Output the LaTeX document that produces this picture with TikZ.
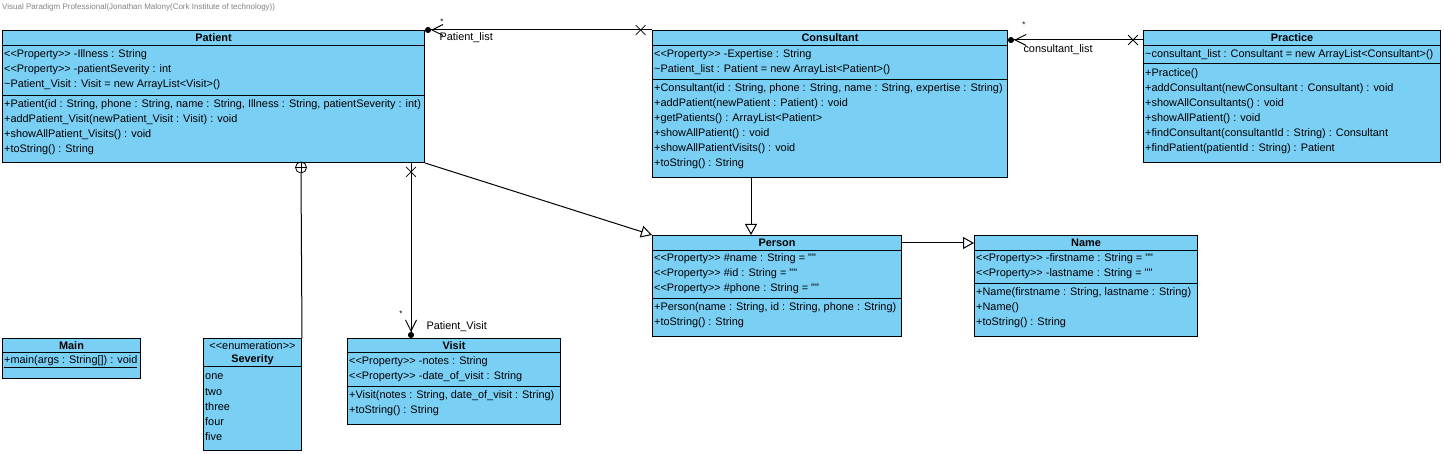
\documentclass[tikz,border=0pt]{standalone}
\usepackage{fontspec}
\setmainfont{Liberation Sans}[Ligatures=TeXOff]
\usetikzlibrary{arrows.meta,shapes.misc,positioning}
\definecolor{vpblue}{RGB}{122,207,245}
\definecolor{vpgray}{RGB}{130,130,130}

% one text line per row, 15pt apart, below the top of a class box
\newcommand\classrows[3]{%
	\foreach \t [count=\i from 0] in {#3}
		\node[member] at ([xshift=2pt,yshift={-(#2+15*\i)*1pt}]#1.north west) {\t};}
% compartment line at a given depth in a class box
\newcommand\sepline[2]{\draw[line width=1pt] ([yshift=-#2pt]#1.north west) -- ([yshift=-#2pt]#1.north east);}

\begin{document}
\begin{tikzpicture}[x=1pt,y=-1pt,
		every node/.style={font=\fontsize{10.9}{12}\selectfont},
		classbox/.style={draw, line width=1pt, fill=vpblue, anchor=north west, inner sep=0pt},
		classname/.style={font=\fontsize{10.9}{12}\selectfont\bfseries, inner sep=0pt},
		member/.style={anchor=west, inner sep=0pt},
		rolelabel/.style={anchor=west, inner sep=0pt},
		mult/.style={font=\fontsize{8}{9}\selectfont, inner sep=0pt},
		xmark/.style={cross out, draw, minimum size=9pt, inner sep=0pt, line width=0.8pt},
		assoc/.style={line width=1pt, -{Straight Barb[length=11pt,width=11pt] Circle[length=6pt]}},
		gen/.style={line width=1pt, -{Triangle[open,length=11pt,width=12pt]}}]
	\useasboundingbox (0,0) rectangle (1444,454);
	\node[font=\fontsize{8}{9}\selectfont, text=vpgray, anchor=west, inner sep=0pt] (header) at (2,7) {Visual Paradigm Professional(Jonathan Malony(Cork Institute of technology))};

	% Patient
	\node[classbox, minimum width=422pt, minimum height=132pt] (patient) at (2,30) {};
	\node[classname] at ([yshift=-8pt]patient.north) {Patient};
	\sepline{patient}{16}
	\sepline{patient}{66}
	\classrows{patient}{24.5}{{<<Property>> -Illness : String},{<<Property>> -patientSeverity : int},{\textasciitilde Patient\_Visit : Visit = new ArrayList<Visit>()}}
	\classrows{patient}{74.5}{{+Patient(id : String, phone : String, name : String, Illness : String, patientSeverity : int)},{+addPatient\_Visit(newPatient\_Visit : Visit) : void},{+showAllPatient\_Visits() : void},{+toString() : String}}

	% Consultant
	\node[classbox, minimum width=355pt, minimum height=147pt] (consultant) at (652,30) {};
	\node[classname] at ([yshift=-8pt]consultant.north) {Consultant};
	\sepline{consultant}{16}
	\sepline{consultant}{50}
	\classrows{consultant}{24.5}{{<<Property>> -Expertise : String},{\textasciitilde Patient\_list : Patient = new ArrayList<Patient>()}}
	\classrows{consultant}{59}{{+Consultant(id : String, phone : String, name : String, expertise : String)},{+addPatient(newPatient : Patient) : void},{+getPatients() : ArrayList<Patient>},{+showAllPatient() : void},{+showAllPatientVisits() : void},{+toString() : String}}

	% Practice
	\node[classbox, minimum width=297pt, minimum height=132pt] (practice) at (1143,30) {};
	\node[classname] at ([yshift=-8pt]practice.north) {Practice};
	\sepline{practice}{16}
	\sepline{practice}{34}
	\classrows{practice}{25}{{\textasciitilde consultant\_list : Consultant = new ArrayList<Consultant>()}}
	\classrows{practice}{44}{{+Practice()},{+addConsultant(newConsultant : Consultant) : void},{+showAllConsultants() : void},{+showAllPatient() : void},{+findConsultant(consultantId : String) : Consultant},{+findPatient(patientId : String) : Patient}}

	% Person
	\node[classbox, minimum width=249pt, minimum height=101pt] (person) at (652,235) {};
	\node[classname] at ([yshift=-8pt]person.north) {Person};
	\sepline{person}{16}
	\sepline{person}{64}
	\classrows{person}{24}{{<<Property>> \#name : String = ""},{<<Property>> \#id : String = ""},{<<Property>> \#phone : String = ""}}
	\classrows{person}{73}{{+Person(name : String, id : String, phone : String)},{+toString() : String}}

	% Name
	\node[classbox, minimum width=223pt, minimum height=101pt] (name) at (974,235) {};
	\node[classname] at ([yshift=-8pt]name.north) {Name};
	\sepline{name}{16}
	\sepline{name}{49}
	\classrows{name}{24}{{<<Property>> -firstname : String = ""},{<<Property>> -lastname : String = ""}}
	\classrows{name}{58}{{+Name(firstname : String, lastname : String)},{+Name()},{+toString() : String}}

	% Main
	\node[classbox, minimum width=138pt, minimum height=40pt] (main) at (2,338) {};
	\node[classname] at ([yshift=-7.5pt]main.north) {Main};
	\sepline{main}{15}
	\classrows{main}{24}{{\underline{+main(args : String[]) : void}}}

	% Severity
	\node[classbox, minimum width=98pt, minimum height=112pt] (severity) at (203,338) {};
	\node[inner sep=0pt] at ([yshift=-7.5pt]severity.north) {<<enumeration>>};
	\node[classname] at ([yshift=-22pt]severity.north) {Severity};
	\sepline{severity}{29}
	\classrows{severity}{39}{one,two,three,four,five}

	% Visit
	\node[classbox, minimum width=213pt, minimum height=86pt] (visit) at (347,338) {};
	\node[classname] at ([yshift=-7.5pt]visit.north) {Visit};
	\sepline{visit}{15}
	\sepline{visit}{49}
	\classrows{visit}{24}{{<<Property>> -notes : String},{<<Property>> -date\_of\_visit : String}}
	\classrows{visit}{58}{{+Visit(notes : String, date\_of\_visit : String)},{+toString() : String}}

	% Associations
	\draw[assoc] (consultant.north west) -- node[xmark, pos=0.05]{} (patient.north east)
		node[mult, xshift=17pt, yshift=8pt] {*}
		node[rolelabel, xshift=14pt, yshift=-8pt] {Patient\_list};
	\draw[assoc] ([yshift=-10pt]practice.north west) -- node[xmark, pos=0.074]{} ([yshift=-10pt]consultant.north east)
		node[mult, xshift=16pt, yshift=15pt] {*}
		node[rolelabel, xshift=15pt, yshift=-10pt] {consultant\_list};
	\coordinate (visittop) at ([xshift=64pt]visit.north west);
	\draw[assoc] (patient.south -| visittop) -- node[xmark, pos=0.051]{} (visittop)
		node[mult, xshift=-10pt, yshift=24pt] {*}
		node[rolelabel, xshift=15pt, yshift=11pt] {Patient\_Visit};

	% Severity is nested in Patient
	\node[draw, circle, minimum size=11pt, inner sep=0pt, line width=0.8pt] (nest) at (301,167.5) {};
	\draw[line width=0.8pt] (nest.north) -- (nest.south) (nest.west) -- (nest.east);
	\draw[line width=1pt] (nest.south) -- (severity.north east);

	% Generalizations
	\coordinate (persontop) at ([xshift=99pt]person.north west);
	\draw[gen] (patient.south east) -- (person.north west);
	\draw[gen] (consultant.south -| persontop) -- (persontop);
	\draw[gen] ([yshift=-8pt]person.north east) -- ([yshift=-8pt]name.north west);
\end{tikzpicture}
\end{document}
